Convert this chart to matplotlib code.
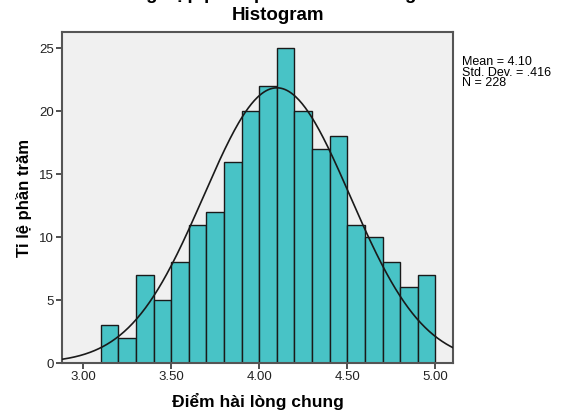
import numpy as np
import matplotlib
matplotlib.use("Agg")
import matplotlib.pyplot as plt

plt.rcParams['font.family'] = ['Liberation Sans', 'DejaVu Sans']

bin_edges = [3.1, 3.2, 3.3, 3.4, 3.5, 3.6, 3.7, 3.8, 3.9, 4.0, 4.1,
             4.2, 4.3, 4.4, 4.5, 4.6, 4.7, 4.8, 4.9, 5.0]
counts = [3, 2, 7, 5, 8, 11, 12, 16, 20, 22, 25, 20, 17, 18, 11, 10, 8, 6, 7]
mean = 4.10
std = 0.416
n = 228
x_ticks = [3.0, 3.5, 4.0, 4.5, 5.0]
y_ticks = [0, 5, 10, 15, 20, 25]

fig = plt.figure(figsize=(5.61, 4.17), dpi=100)
ax = fig.add_axes([62/561, 1 - 363/417, (453-62)/561, (363-32)/417])
ax.set_facecolor('#F0F0F0')

widths = np.diff(bin_edges)
ax.bar(bin_edges[:-1], counts, width=widths, align='edge',
       color='#48C3C6', edgecolor='#1a1a1a', linewidth=1.0, zorder=2)

xs = np.linspace(2.8, 5.2, 400)
binw = 0.1
ys = n * binw / (std * np.sqrt(2 * np.pi)) * np.exp(-0.5 * ((xs - mean) / std) ** 2)
ax.plot(xs, ys, color='#1a1a1a', linewidth=1.2, zorder=3)

ax.set_xlim(2.88, 5.10)
ax.set_ylim(0, 26.3)
ax.set_xticks(x_ticks)
ax.set_xticklabels([f"{t:.2f}" for t in x_ticks])
ax.set_yticks(y_ticks)
ax.tick_params(direction='out', length=4, width=1.2, color='#333333',
               labelsize=9.5, labelcolor='#222222', pad=2)
for s in ax.spines.values():
    s.set_color('#555555')
    s.set_linewidth(1.5)

ax.set_xlabel('Điểm hài lòng chung', fontsize=12.5, fontweight='bold', labelpad=7)
ax.set_ylabel('Tỉ lệ phần trăm', fontsize=12, fontweight='bold', labelpad=5)
fig.text(278/561, 1 - 15/417, 'Histogram', ha='center', va='center',
         fontsize=13.5, fontweight='bold')
fig.text(230/561, 1 + 1/417, 'Biểu đồ tổng hợp phân phối mức hài lòng', ha='center',
         va='baseline', fontsize=13.5, fontweight='bold')

fig.text(462/561, 1 - 56/417, f"Mean = {mean:.2f}\nStd. Dev. = .416\nN = {n}",
         ha='left', va='top', fontsize=9, linespacing=0.85)

fig.savefig('out.png', dpi=100)
